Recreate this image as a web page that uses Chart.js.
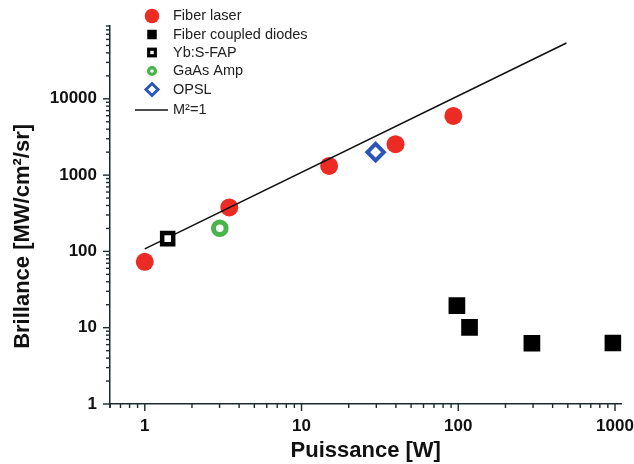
<!DOCTYPE html>
<html>
<head>
<meta charset="utf-8">
<script src="https://cdn.jsdelivr.net/npm/chart.js@4/dist/chart.umd.min.js"></script>
<style>
html, body { margin: 0; padding: 0; background: #fff; }
canvas { display: block; }
</style>
</head>
<body>
<canvas id="chart" width="634" height="464"></canvas>
<script>
// ===== Brillance vs puissance (log-log) =====

const fiberLaserX = [1, 3.46, 15, 39.8, 93];
const fiberLaserY = [73, 377, 1320, 2540, 5970];

const diodesX = [98, 118, 295, 970];
const diodesY = [19.5, 10.1, 6.25, 6.3];

const ybSfapX = [1.4];
const ybSfapY = [147];

const gaasX = [3.01];
const gaasY = [201];

const opslX = [29.7];
const opslY = [2000];

const m2LineX = [1, 490];
const m2LineY = [108, 54000];

const xTickLabels = [1, 10, 100, 1000];
const yTickLabels = [1, 10, 100, 1000, 10000];

const FONT = "'Liberation Sans', Arial, Helvetica, sans-serif";
const AXIS_COLOR = '#1c2a2e';
const RED = '#ec2b25';
const GREEN = '#47b54a';
const BLUE = '#2c55b8';

function toPoints(xs, ys) {
    return xs.map((x, i) => ({ x: x, y: ys[i] }));
}

function isDecade(v) {
    const e = Math.floor(Math.log10(v) + 1e-9);
    return Math.abs(v / Math.pow(10, e) - 1) < 1e-6;
}

// petites graduations (1..9 par décade), plus longues sur les puissances de 10
const tickMarks = {
    id: 'tickMarks',
    afterDraw(chart) {
        const ctx = chart.ctx;
        ctx.save();
        ctx.strokeStyle = AXIS_COLOR;
        ctx.lineWidth = 1.4;
        ['x', 'y'].forEach(id => {
            const scale = chart.scales[id];
            scale.ticks.forEach(t => {
                const v = t.value;
                const e = Math.floor(Math.log10(v) + 1e-9);
                const s = v / Math.pow(10, e);
                if (Math.abs(s - Math.round(s)) > 1e-6) return;
                const len = isDecade(v) ? 7 : 4;
                const p = scale.getPixelForValue(v);
                ctx.beginPath();
                if (id === 'x') {
                    ctx.moveTo(p, scale.top);
                    ctx.lineTo(p, scale.top + len);
                } else {
                    ctx.moveTo(scale.right, p);
                    ctx.lineTo(scale.right - len, p);
                }
                ctx.stroke();
            });
        });
        ctx.restore();
    }
};

// légende dessinée dans la zone du graphique, en haut à gauche
const legendRows = [
    { y: 16, kind: 'circle', r: 7.3, fill: RED },
    { y: 34.5, kind: 'square', side: 9.5, fill: '#000' },
    { y: 52.5, kind: 'openSquare', side: 6.6, lw: 3.2, stroke: '#000' },
    { y: 71, kind: 'ring', r: 3.4, lw: 3.3, stroke: GREEN },
    { y: 89.5, kind: 'diamond', r: 6, lw: 3, stroke: BLUE },
    { y: 110, kind: 'line' }
];

const insideLegend = {
    id: 'insideLegend',
    afterDraw(chart) {
        const ctx = chart.ctx;
        const cx = 152;
        ctx.save();
        chart.data.datasets.forEach((ds, i) => {
            const row = legendRows[i];
            ctx.beginPath();
            if (row.kind === 'circle') {
                ctx.fillStyle = row.fill;
                ctx.arc(cx, row.y, row.r, 0, Math.PI * 2);
                ctx.fill();
            } else if (row.kind === 'square') {
                ctx.fillStyle = row.fill;
                ctx.fillRect(cx - row.side / 2, row.y - row.side / 2, row.side, row.side);
            } else if (row.kind === 'openSquare') {
                ctx.strokeStyle = row.stroke;
                ctx.lineWidth = row.lw;
                ctx.strokeRect(cx - row.side / 2, row.y - row.side / 2, row.side, row.side);
            } else if (row.kind === 'ring') {
                ctx.strokeStyle = row.stroke;
                ctx.lineWidth = row.lw;
                ctx.arc(cx, row.y, row.r, 0, Math.PI * 2);
                ctx.stroke();
            } else if (row.kind === 'diamond') {
                ctx.strokeStyle = row.stroke;
                ctx.lineWidth = row.lw;
                ctx.moveTo(cx, row.y - row.r);
                ctx.lineTo(cx + row.r, row.y);
                ctx.lineTo(cx, row.y + row.r);
                ctx.lineTo(cx - row.r, row.y);
                ctx.closePath();
                ctx.stroke();
            } else {
                ctx.strokeStyle = '#111';
                ctx.lineWidth = 1.6;
                ctx.moveTo(135, row.y);
                ctx.lineTo(168, row.y);
                ctx.stroke();
            }
            ctx.fillStyle = '#222';
            ctx.font = '14.5px ' + FONT;
            ctx.textBaseline = 'middle';
            ctx.textAlign = 'left';
            ctx.fillText(ds.label, 173, row.y);
        });
        ctx.restore();
    }
};

const ctx = document.getElementById('chart').getContext('2d');

// ordre de dessin : cercles rouges sous la droite, autres marqueurs au-dessus
new Chart(ctx, {
    type: 'scatter',
    data: {
        datasets: [
            {
                label: 'Fiber laser',
                data: toPoints(fiberLaserX, fiberLaserY),
                pointStyle: 'circle',
                pointRadius: 9,
                pointBackgroundColor: RED,
                pointBorderWidth: 0,
                order: 2
            },
            {
                label: 'Fiber coupled diodes',
                data: toPoints(diodesX, diodesY),
                pointStyle: 'rect',
                pointRadius: 11.8,
                pointBackgroundColor: '#000',
                pointBorderWidth: 0,
                order: 0
            },
            {
                label: 'Yb:S-FAP',
                data: toPoints(ybSfapX, ybSfapY),
                pointStyle: 'rect',
                pointRadius: 7.8,
                pointBackgroundColor: '#fff',
                pointBorderColor: '#000',
                pointBorderWidth: 4.5,
                order: 0
            },
            {
                label: 'GaAs Amp',
                data: toPoints(gaasX, gaasY),
                pointStyle: 'circle',
                pointRadius: 6.3,
                pointBackgroundColor: '#fff',
                pointBorderColor: GREEN,
                pointBorderWidth: 5,
                order: 0
            },
            {
                label: 'OPSL',
                data: toPoints(opslX, opslY),
                pointStyle: 'rectRot',
                pointRadius: 8.2,
                pointBackgroundColor: '#fff',
                pointBorderColor: BLUE,
                pointBorderWidth: 4,
                order: 0
            },
            {
                label: 'M²=1',
                type: 'line',
                data: toPoints(m2LineX, m2LineY),
                showLine: true,
                borderColor: '#111',
                borderWidth: 1.6,
                pointRadius: 0,
                fill: false,
                order: 1
            }
        ]
    },
    options: {
        responsive: false,
        animation: false,
        events: [],
        layout: {
            padding: { top: 26, right: 12.5, left: 0, bottom: 0 }
        },
        plugins: {
            legend: { display: false },
            tooltip: { enabled: false }
        },
        scales: {
            x: {
                type: 'logarithmic',
                min: 0.6,
                max: 1100,
                afterFit: scale => { scale.height = 60; },
                grid: { display: false, drawTicks: false },
                border: { display: true, color: AXIS_COLOR, width: 1.5 },
                ticks: {
                    autoSkip: false,
                    maxRotation: 0,
                    padding: 12,
                    color: '#111',
                    font: { family: FONT, size: 17, weight: 'bold' },
                    callback: function(value) {
                        const v = Math.round(value);
                        return xTickLabels.includes(v) && isDecade(value) ? String(v) : '';
                    }
                },
                title: {
                    display: true,
                    text: 'Puissance [W]',
                    color: '#111',
                    padding: { top: 0, bottom: 0 },
                    font: { family: FONT, size: 22, weight: 'bold' }
                }
            },
            y: {
                type: 'logarithmic',
                min: 1,
                max: 90000,
                afterFit: scale => { scale.width = 110; },
                grid: { display: false, drawTicks: false },
                border: { display: true, color: AXIS_COLOR, width: 1.5 },
                ticks: {
                    autoSkip: false,
                    padding: 13,
                    color: '#111',
                    font: { family: FONT, size: 17, weight: 'bold' },
                    callback: function(value) {
                        const v = Math.round(value);
                        return yTickLabels.includes(v) && isDecade(value) ? String(v) : '';
                    }
                },
                title: {
                    display: true,
                    // espaces finaux : le titre est centré un peu plus bas que l'axe
                    text: 'Brillance [MW/cm²/sr]       ',
                    color: '#111',
                    padding: { top: 10, bottom: 0 },
                    font: { family: FONT, size: 22, weight: 'bold' }
                }
            }
        }
    },
    plugins: [tickMarks, insideLegend]
});
</script>
</body>
</html>
